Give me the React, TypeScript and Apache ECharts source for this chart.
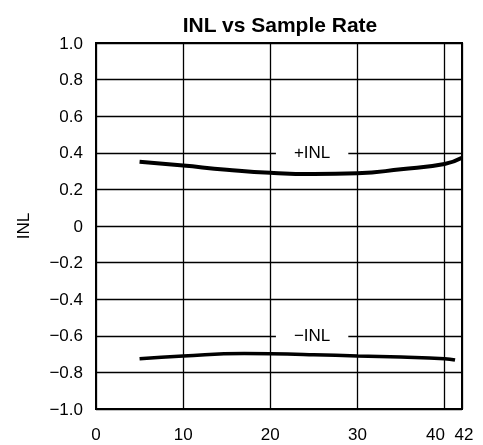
import React, { useEffect, useRef } from "react";
import * as echarts from "echarts";

const posX = [5, 10, 15, 20, 25, 30, 35, 40, 42];
const posY = [0.351, 0.33, 0.308, 0.291, 0.284, 0.288, 0.31, 0.339, 0.373];
const negX = [5, 10, 17, 20, 25, 30, 35, 40, 41.2];
const negY = [-0.725, -0.71, -0.697, -0.698, -0.703, -0.71, -0.716, -0.725, -0.732];
const labels = [
  { name: "+INL", x: 24.8, y: 0.4 },
  { name: "\u2212INL", x: 24.8, y: -0.6 },
];
const xTicks = [0, 10, 20, 30, 40];
const xEndTick = [42];

const FONT = "Liberation Sans";

export default function App() {
  const ref = useRef<HTMLDivElement>(null);
  useEffect(() => {
    const chart = echarts.init(ref.current!, undefined, { renderer: "svg" });
    const labelBase = { color: "#000", fontFamily: FONT, fontSize: 17, margin: 17 };
    chart.setOption({
      animation: false,
      title: {
        text: "INL vs Sample Rate",
        left: 275,
        textAlign: "center",
        top: 9,
        textStyle: { fontFamily: FONT, fontWeight: "bold", fontSize: 21, color: "#000" },
      },
      grid: {
        left: 96,
        right: 21,
        top: 43,
        bottom: 36,
        show: true,
        borderColor: "#000",
        borderWidth: 2,
      },
      xAxis: [
        {
          type: "value",
          min: 0,
          max: 42,
          interval: 10,
          axisLine: { show: true, onZero: false, lineStyle: { color: "#000", width: 2 } },
          axisTick: { show: false },
          splitLine: { show: true, lineStyle: { color: "#000", width: 1.3 } },
          axisLabel: {
            ...labelBase,
            customValues: xTicks,
            showMinLabel: true,
            showMaxLabel: true,
            formatter: (v: number) => (v === 40 ? "{s|40}" : String(v)),
            rich: { s: { ...labelBase, padding: [0, 18, 0, 0] } },
          },
        },
        {
          type: "value",
          min: 0,
          max: 42,
          interval: 10,
          position: "bottom",
          axisLine: { show: false, onZero: false },
          axisTick: { show: false },
          splitLine: { show: false },
          axisLabel: {
            ...labelBase,
            customValues: xEndTick,
            showMaxLabel: true,
            formatter: (v: number) => "{e|" + v + "}",
            rich: { e: { ...labelBase, padding: [0, 0, 0, 4] } },
          },
        },
      ],
      yAxis: {
        type: "value",
        min: -1,
        max: 1,
        interval: 0.2,
        name: "INL",
        nameLocation: "middle",
        nameGap: 64,
        nameTextStyle: { color: "#000", fontFamily: FONT, fontSize: 17 },
        axisLine: { show: true, onZero: false, lineStyle: { color: "#000", width: 2 } },
        axisTick: { show: false },
        splitLine: { show: true, lineStyle: { color: "#000", width: 1.3 } },
        axisLabel: {
          color: "#000",
          fontFamily: FONT,
          fontSize: 17,
          margin: 13,
          formatter: (v: number) => {
            const r = Math.round(v * 10) / 10;
            if (r === 0) return "0";
            const s = Math.abs(r).toFixed(1);
            return r < 0 ? "\u2212" + s : s;
          },
        },
      },
      series: [
        {
          type: "line",
          data: posX.map((x, i) => [x, posY[i]]),
          smooth: true,
          showSymbol: false,
          lineStyle: { color: "#000", width: 4 },
          z: 3,
        },
        {
          type: "line",
          data: negX.map((x, i) => [x, negY[i]]),
          smooth: true,
          showSymbol: false,
          lineStyle: { color: "#000", width: 3.5 },
          z: 3,
        },
        {
          type: "scatter",
          symbolSize: 0,
          itemStyle: { opacity: 1, color: "#000" },
          data: labels.map((l) => ({ value: [l.x, l.y], name: l.name })),
          label: {
            show: true,
            position: "inside",
            formatter: (p: any) => p.name,
            color: "#000",
            fontFamily: FONT,
            fontSize: 17,
            backgroundColor: "#fff",
            padding: [2, 18, 2, 18],
          },
          emphasis: { disabled: true },
          z: 4,
        },
      ],
    });
    return () => chart.dispose();
  }, []);
  return (
    <div
      ref={ref}
      style={{ position: "fixed", left: 0, top: 0, width: 483, height: 445 }}
    />
  );
}
